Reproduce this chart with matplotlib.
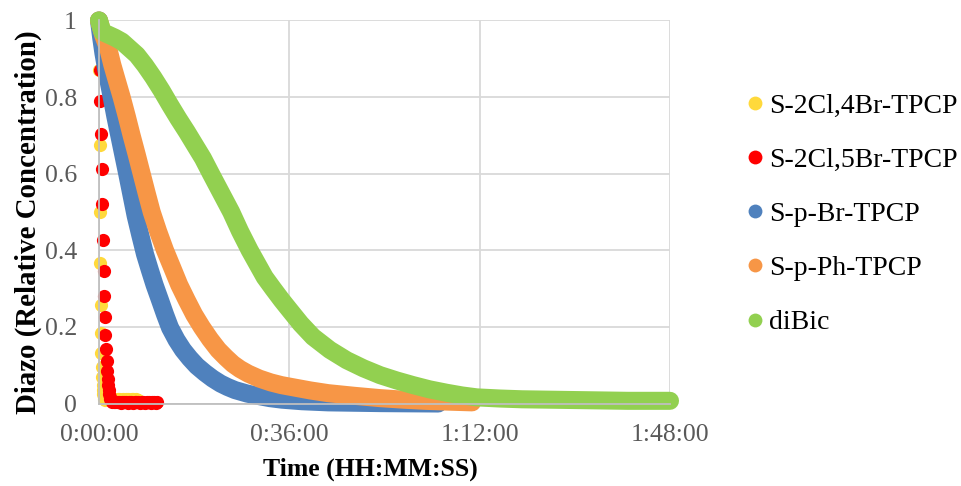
import numpy as np
import matplotlib.pyplot as plt
from matplotlib.ticker import FuncFormatter

plt.rcParams['font.family'] = ['Liberation Serif', 'DejaVu Serif']

# time in seconds, relative diazo concentration
t_cl4br = [0, 4, 8, 12, 16, 20, 24, 28, 32, 36, 40, 44, 48, 52, 56,
           70, 90, 110, 130, 150, 170, 190, 210, 230, 250, 270, 290, 310, 330, 350, 370, 390, 410, 425, 440]
y_cl4br = [1.0, 0.87, 0.674, 0.50, 0.366, 0.257, 0.184, 0.132, 0.095, 0.068, 0.048, 0.034, 0.024, 0.016, 0.012,
           0.010, 0.011, 0.010, 0.012, 0.010, 0.011, 0.010, 0.012, 0.011, 0.010, 0.011, 0.010, 0.012, 0.011,
           0.010, 0.011, 0.012, 0.010, 0.011, 0.010]

t_cl5br = [0, 10, 17, 24, 31, 38, 45, 52, 59, 66, 73, 80, 86, 92, 98, 104, 110, 116, 122, 128,
           145, 165, 185, 205, 225, 245, 265, 285, 305, 325, 345, 365, 385, 405, 425, 445, 465, 485, 505,
           525, 545, 565, 585, 605, 625, 645, 660]
y_cl5br = [1.0, 0.87, 0.79, 0.703, 0.613, 0.52, 0.428, 0.346, 0.28, 0.226, 0.179, 0.141, 0.11, 0.085, 0.065,
           0.048, 0.035, 0.025, 0.017, 0.011,
           0.005, 0.004, 0.003, 0.004, 0.003, 0.002, 0.003, 0.004, 0.003, 0.002, 0.003, 0.003, 0.002, 0.003,
           0.004, 0.003, 0.002, 0.003, 0.003, 0.002, 0.004, 0.003, 0.002, 0.003, 0.003, 0.002, 0.003]

t_pbr = [0, 25, 50, 80, 110, 144, 185, 230, 275, 320, 368, 416, 468, 522, 575, 630, 692, 750, 806, 880,
         953, 1030, 1110, 1203, 1290, 1380, 1460, 1544, 1680, 1800, 1940, 2077, 2300, 2600, 2900, 3200,
         3500, 3850]
y_pbr = [1.0, 0.955, 0.915, 0.875, 0.84, 0.80, 0.75, 0.70, 0.65, 0.60, 0.545, 0.49, 0.44, 0.39, 0.35, 0.31,
         0.27, 0.232, 0.198, 0.166, 0.14, 0.118, 0.098, 0.08, 0.065, 0.052, 0.043, 0.035, 0.026, 0.02, 0.014,
         0.01, 0.006, 0.003, 0.002, 0.001, 0.0005, 0.0]

t_pph = [0, 50, 106, 150, 200, 257, 315, 370, 428, 484, 540, 598, 670, 749, 830, 910, 995, 1080, 1165,
         1260, 1354, 1440, 1520, 1600, 1693, 1820, 1950, 2070, 2187, 2400, 2600, 2900, 3190, 3450, 3700,
         3950, 4234]
y_pph = [1.0, 0.96, 0.926, 0.885, 0.845, 0.80, 0.75, 0.70, 0.65, 0.60, 0.55, 0.50, 0.45, 0.40, 0.355, 0.31,
         0.27, 0.232, 0.20, 0.168, 0.14, 0.12, 0.103, 0.09, 0.078, 0.065, 0.055, 0.048, 0.043, 0.034, 0.027,
         0.02, 0.014, 0.01, 0.007, 0.005, 0.003]

t_dibic = [0, 40, 182, 260, 333, 430, 522, 615, 711, 805, 900, 995, 1090, 1180, 1270, 1385, 1500, 1600,
           1710, 1795, 1880, 1975, 2073, 2160, 2290, 2429, 2620, 2811, 3000, 3190, 3380, 3564, 3750, 3946,
           4120, 4287, 4550, 4800, 5100, 5400, 5700, 6000, 6250, 6480]
y_dibic = [1.0, 0.97, 0.955, 0.945, 0.93, 0.91, 0.883, 0.852, 0.817, 0.78, 0.744, 0.71, 0.674, 0.64, 0.60,
           0.55, 0.50, 0.45, 0.40, 0.365, 0.33, 0.30, 0.27, 0.245, 0.208, 0.174, 0.14, 0.113, 0.092, 0.074,
           0.06, 0.048, 0.037, 0.028, 0.021, 0.016, 0.013, 0.011, 0.01, 0.009, 0.008, 0.007, 0.007, 0.007]

labels = ['S-2Cl,4Br-TPCP', 'S-2Cl,5Br-TPCP', 'S-p-Br-TPCP', 'S-p-Ph-TPCP', 'diBic']
colors = ['#FFD93B', '#FF0000', '#4F81BD', '#F79646', '#92D050']

fig = plt.figure(figsize=(9.61, 4.86), dpi=100)
ax = fig.add_axes([99 / 961, 1 - 403.5 / 486, 571 / 961, 383 / 486])

ms = 9.5
# fast decays: separate points
ax.plot(t_cl4br, y_cl4br, 'o', color=colors[0], ms=ms, mew=0, clip_on=False, label=labels[0])
ax.plot(t_cl5br, y_cl5br, 'o', color=colors[1], ms=ms, mew=0, clip_on=False, label=labels[1])
# slow decays: dense points form a band
for t, y, c, lab in [(t_pbr, y_pbr, colors[2], labels[2]),
                     (t_pph, y_pph, colors[3], labels[3]),
                     (t_dibic, y_dibic, colors[4], labels[4])]:
    ax.plot(t, y, '-', color=c, lw=13, solid_capstyle='round', solid_joinstyle='round', clip_on=False)
    ax.plot([], [], 'o', color=c, ms=ms, mew=0, label=lab)

ax.set_xlim(0, 6480)
ax.set_ylim(0, 1)
ax.set_xticks([0, 2160, 4320, 6480])
ax.set_yticks([0, 0.2, 0.4, 0.6, 0.8, 1.0])
ax.xaxis.set_major_formatter(FuncFormatter(
    lambda v, p: '%d:%02d:%02d' % (v // 3600, (v % 3600) // 60, v % 60)))
ax.yaxis.set_major_formatter(FuncFormatter(lambda v, p: '%g' % round(v, 1)))
ax.tick_params(length=0, labelsize=18.5, labelcolor='#595959')
ax.tick_params(axis='y', pad=16)
ax.tick_params(axis='x', pad=15)
ax.grid(True, color='#d9d9d9', lw=1.3)
ax.set_axisbelow(True)
for s in ['top', 'right']:
    ax.spines[s].set_visible(False)
for s in ['left', 'bottom']:
    ax.spines[s].set_color('#bfbfbf')
    ax.spines[s].set_linewidth(1.3)

ax.set_xlabel('Time (HH:MM:SS)', fontsize=18.5, fontweight='bold')
ax.xaxis.set_label_coords(0.4746, -0.14)
ax.set_ylabel('Diazo (Relative Concentration)', fontsize=20.8, fontweight='bold')
ax.yaxis.set_label_coords(-0.1, 0.474)

ax.legend(loc='upper left', bbox_to_anchor=(748 / 961, 1 - 93.6 / 486), bbox_transform=fig.transFigure,
          frameon=False, fontsize=20, handlelength=0.5, handletextpad=0.25, labelspacing=1.03,
          borderpad=0, borderaxespad=0, markerscale=1.05)

fig.savefig('out.png', dpi=100)
